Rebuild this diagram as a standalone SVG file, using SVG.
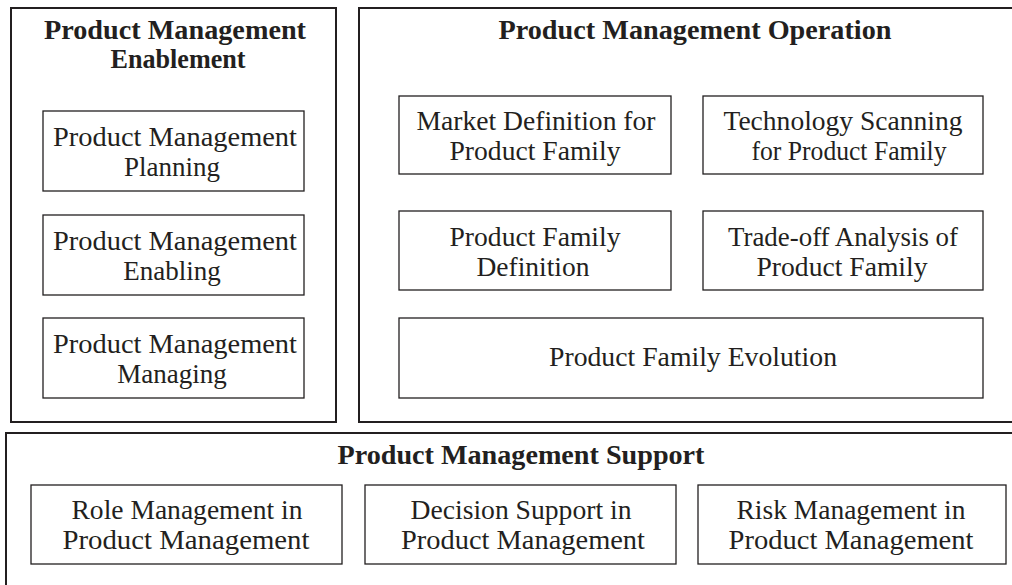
<svg xmlns="http://www.w3.org/2000/svg" width="1012" height="585" viewBox="0 0 1012 585">
  <style>
    .frame { fill: #ffffff; stroke: #231f20; stroke-width: 2; }
    .box { fill: #ffffff; stroke: #231f20; stroke-width: 1.3; }
    .title { font-family: "Liberation Serif", "DejaVu Serif", serif; font-size: 27px; font-weight: bold; fill: #231f20; text-anchor: middle; }
    .label { font-family: "Liberation Serif", "DejaVu Serif", serif; font-size: 27px; fill: #231f20; text-anchor: middle; }
  </style>
  <rect width="1012" height="585" fill="#ffffff"/>

  <!-- Enablement area -->
  <g id="enablement">
    <rect class="frame" x="11" y="8" width="325" height="414"/>
    <text class="title" x="175" y="39" textLength="262" lengthAdjust="spacingAndGlyphs">Product Management</text>
    <text class="title" x="178" y="68" textLength="135" lengthAdjust="spacingAndGlyphs">Enablement</text>
  </g>
  <g id="pm-planning">
    <rect class="box" x="43" y="111" width="261" height="80"/>
    <text class="label" x="175" y="146" textLength="244" lengthAdjust="spacingAndGlyphs">Product Management</text>
    <text class="label" x="172" y="176">Planning</text>
  </g>
  <g id="pm-enabling">
    <rect class="box" x="43" y="215" width="261" height="80"/>
    <text class="label" x="175" y="250" textLength="244" lengthAdjust="spacingAndGlyphs">Product Management</text>
    <text class="label" x="172" y="280">Enabling</text>
  </g>
  <g id="pm-managing">
    <rect class="box" x="43" y="318" width="261" height="80"/>
    <text class="label" x="175" y="353" textLength="244" lengthAdjust="spacingAndGlyphs">Product Management</text>
    <text class="label" x="172" y="383">Managing</text>
  </g>

  <!-- Operation area -->
  <g id="operation">
    <rect class="frame" x="359" y="8" width="665" height="414"/>
    <text class="title" x="695" y="39" textLength="393" lengthAdjust="spacingAndGlyphs">Product Management Operation</text>
  </g>
  <g id="market-definition">
    <rect class="box" x="399" y="96" width="272" height="78"/>
    <text class="label" x="536" y="130" textLength="239" lengthAdjust="spacingAndGlyphs">Market Definition for</text>
    <text class="label" x="535" y="160" textLength="171" lengthAdjust="spacingAndGlyphs">Product Family</text>
  </g>
  <g id="technology-scanning">
    <rect class="box" x="703" y="96" width="280" height="78"/>
    <text class="label" x="843" y="130" textLength="239" lengthAdjust="spacingAndGlyphs">Technology Scanning</text>
    <text class="label" x="849" y="160" textLength="195" lengthAdjust="spacingAndGlyphs">for Product Family</text>
  </g>
  <g id="family-definition">
    <rect class="box" x="399" y="211" width="272" height="79"/>
    <text class="label" x="535" y="246" textLength="171" lengthAdjust="spacingAndGlyphs">Product Family</text>
    <text class="label" x="533" y="276" textLength="113" lengthAdjust="spacingAndGlyphs">Definition</text>
  </g>
  <g id="trade-off-analysis">
    <rect class="box" x="703" y="211" width="280" height="79"/>
    <text class="label" x="843" y="246" textLength="230" lengthAdjust="spacingAndGlyphs">Trade-off Analysis of</text>
    <text class="label" x="842" y="276" textLength="171" lengthAdjust="spacingAndGlyphs">Product Family</text>
  </g>
  <g id="family-evolution">
    <rect class="box" x="399" y="318" width="584" height="80"/>
    <text class="label" x="693" y="366" textLength="288" lengthAdjust="spacingAndGlyphs">Product Family Evolution</text>
  </g>

  <!-- Support area -->
  <g id="support">
    <rect class="frame" x="6" y="433" width="1018" height="170"/>
    <text class="title" x="521" y="464" textLength="367" lengthAdjust="spacingAndGlyphs">Product Management Support</text>
  </g>
  <g id="role-management">
    <rect class="box" x="31" y="485" width="311" height="79"/>
    <text class="label" x="187" y="519" textLength="231" lengthAdjust="spacingAndGlyphs">Role Management in</text>
    <text class="label" x="186" y="549" textLength="247" lengthAdjust="spacingAndGlyphs">Product Management</text>
  </g>
  <g id="decision-support">
    <rect class="box" x="365" y="485" width="311" height="79"/>
    <text class="label" x="521" y="519" textLength="221" lengthAdjust="spacingAndGlyphs">Decision Support in</text>
    <text class="label" x="523" y="549" textLength="244" lengthAdjust="spacingAndGlyphs">Product Management</text>
  </g>
  <g id="risk-management">
    <rect class="box" x="698" y="485" width="308" height="79"/>
    <text class="label" x="851" y="519" textLength="229" lengthAdjust="spacingAndGlyphs">Risk Management in</text>
    <text class="label" x="851" y="549" textLength="245" lengthAdjust="spacingAndGlyphs">Product Management</text>
  </g>

  <!-- no connectors in this layout -->
  <g id="connectors"/>
</svg>
